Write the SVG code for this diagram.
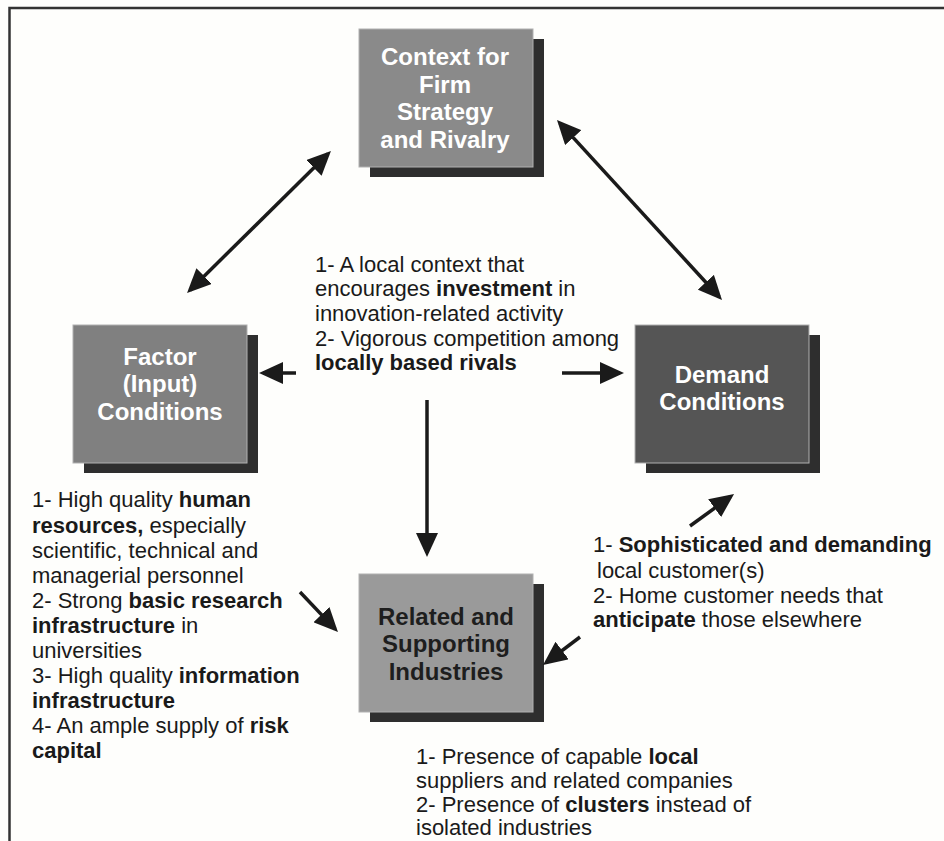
<svg xmlns="http://www.w3.org/2000/svg" width="944" height="841" viewBox="0 0 944 841">
<style>
.shadow{fill:#2e2e2e}
.box{stroke:#b0b0b0;stroke-width:1}
.bt{font-family:"Liberation Sans",Arial,sans-serif;font-weight:bold;font-size:24px;fill:#ffffff;text-anchor:middle}
.t{font-family:"Liberation Sans",Arial,sans-serif;font-size:22px;fill:#1a1a1a}
.b{font-weight:bold}
.conn line{stroke:#1a1a1a;stroke-width:3.5;fill:none}
</style>
<defs>
<marker id="ah" viewBox="0 0 24 22" markerWidth="24" markerHeight="22" refX="20" refY="11" orient="auto-start-reverse" markerUnits="userSpaceOnUse">
<path d="M0,0 L24,11 L0,22 z" fill="#1a1a1a"/>
</marker>
</defs>
<rect x="0" y="0" width="944" height="841" fill="#fefefc"/>
<path d="M9.5,841 L9.5,8 L944,8" fill="none" stroke="#333333" stroke-width="2.5"/>

<g id="context">
<rect class="shadow" x="370" y="39" width="174" height="138"/>
<rect class="box" x="359" y="29" width="174" height="138" fill="#8a8a8a"/>
<text class="bt" x="445" y="65">Context for</text>
<text class="bt" x="445" y="93">Firm</text>
<text class="bt" x="445" y="120">Strategy</text>
<text class="bt" x="445" y="148">and Rivalry</text>
</g>

<g id="factor">
<rect class="shadow" x="84" y="335" width="174" height="138"/>
<rect class="box" x="73" y="325" width="174" height="138" fill="#808080"/>
<text class="bt" x="160" y="365">Factor</text>
<text class="bt" x="160" y="392">(Input)</text>
<text class="bt" x="160" y="420">Conditions</text>
</g>

<g id="demand">
<rect class="shadow" x="646" y="335" width="174" height="138"/>
<rect class="box" x="635" y="325" width="174" height="138" fill="#555555"/>
<text class="bt" x="722" y="383">Demand</text>
<text class="bt" x="722" y="410">Conditions</text>
</g>

<g id="related">
<rect class="shadow" x="370" y="584" width="174" height="138"/>
<rect class="box" x="359" y="574" width="174" height="138" fill="#9a9a9a"/>
<text class="bt" x="446" y="625" style="fill:#1e1e1e">Related and</text>
<text class="bt" x="446" y="652" style="fill:#1e1e1e">Supporting</text>
<text class="bt" x="446" y="680" style="fill:#1e1e1e">Industries</text>
</g>

<g id="context-text">
<text class="t" x="315" y="272">1- A local context that</text>
<text class="t" x="315" y="296">encourages <tspan class="b">investment</tspan> in</text>
<text class="t" x="315" y="321">innovation-related activity</text>
<text class="t" x="315" y="346">2- Vigorous competition among</text>
<text class="t" x="315" y="370"><tspan class="b">locally based rivals</tspan></text>
</g>

<g id="factor-text">
<text class="t" x="32" y="507">1- High quality <tspan class="b">human</tspan></text>
<text class="t" x="32" y="533"><tspan class="b">resources,</tspan> especially</text>
<text class="t" x="32" y="558">scientific, technical and</text>
<text class="t" x="32" y="583">managerial personnel</text>
<text class="t" x="32" y="608">2- Strong <tspan class="b">basic research</tspan></text>
<text class="t" x="32" y="633"><tspan class="b">infrastructure</tspan> in</text>
<text class="t" x="32" y="658">universities</text>
<text class="t" x="32" y="683">3- High quality <tspan class="b">information</tspan></text>
<text class="t" x="32" y="708"><tspan class="b">infrastructure</tspan></text>
<text class="t" x="32" y="733">4- An ample supply of <tspan class="b">risk</tspan></text>
<text class="t" x="32" y="758"><tspan class="b">capital</tspan></text>
</g>

<g id="demand-text">
<text class="t" x="593" y="552">1- <tspan class="b">Sophisticated and demanding</tspan></text>
<text class="t" x="597" y="578">local customer(s)</text>
<text class="t" x="593" y="603">2- Home customer needs that</text>
<text class="t" x="593" y="627"><tspan class="b">anticipate</tspan> those elsewhere</text>
</g>

<g id="related-text">
<text class="t" x="416" y="764">1- Presence of capable <tspan class="b">local</tspan></text>
<text class="t" x="416" y="788">suppliers and related companies</text>
<text class="t" x="416" y="812">2- Presence of <tspan class="b">clusters</tspan> instead of</text>
<text class="t" x="416" y="835">isolated industries</text>
</g>

<g id="connectors" class="conn">
<line x1="189.9" y1="290.2" x2="328.1" y2="153.8" marker-start="url(#ah)" marker-end="url(#ah)"/>
<line x1="559.7" y1="122.9" x2="719.3" y2="297" marker-start="url(#ah)" marker-end="url(#ah)"/>
<line x1="296" y1="373" x2="263" y2="373" marker-end="url(#ah)"/>
<line x1="562" y1="373" x2="620" y2="373" marker-end="url(#ah)"/>
<line x1="427" y1="400" x2="427" y2="553" marker-end="url(#ah)"/>
<line x1="300" y1="592" x2="335.2" y2="629.1" marker-end="url(#ah)"/>
<line x1="690" y1="526" x2="730.8" y2="496.4" marker-end="url(#ah)"/>
<line x1="580" y1="637" x2="546.2" y2="662.6" marker-end="url(#ah)"/>
</g>
</svg>
